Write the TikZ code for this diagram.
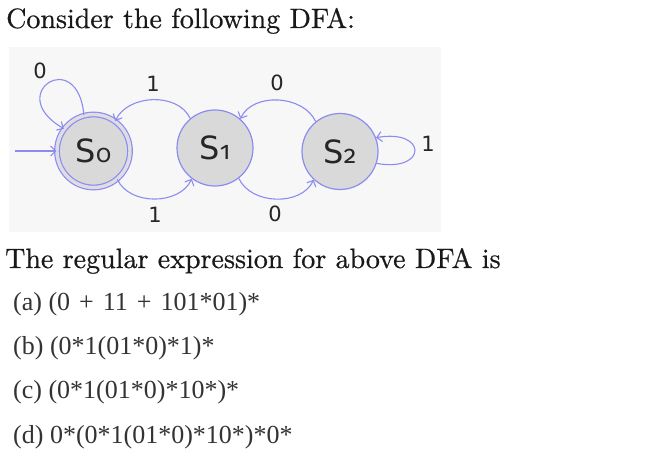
\documentclass[tikz,border=0pt]{standalone}
\usepackage{fontspec}
\usetikzlibrary{arrows.meta}
\newfontfamily\djsans{DejaVu Sans}
\newfontfamily\oldnum[Numbers=OldStyle]{Fira Sans}
\newfontfamily\optfont{Liberation Serif}
\newfontfamily\headfont{lmroman10-regular.otf}[FakeBold=0.6]
\definecolor{edgeblue}{RGB}{140,140,240}
\definecolor{stategray}{RGB}{217,217,217}
\definecolor{ringgray}{RGB}{222,222,226}
\definecolor{bggray}{RGB}{247,247,247}
\begin{document}
\begin{tikzpicture}[x=1pt,y=1pt,
  state/.style={circle, draw=edgeblue, fill=stategray, line width=1.2pt,
    minimum size=76pt, inner sep=0pt, font=\djsans\fontsize{32}{32}\selectfont, text=black!85},
  accepting/.style={double=ringgray, double distance=3.4pt, minimum size=73pt},
  edge/.style={draw=edgeblue, line width=1.1pt, -{Straight Barb[length=5pt,width=10pt]}},
  elabel/.style={font=\djsans\fontsize{21}{21}\selectfont, text=black!85, inner sep=0pt},
  head/.style={anchor=base west, font=\headfont\fontsize{28}{28}\selectfont, inner sep=0pt, text=black!90},
  opt/.style={anchor=base west, font=\optfont\fontsize{26}{26}\selectfont, inner sep=0pt, text=black!80}
]
\useasboundingbox (0,0) rectangle (645,463);
\fill[bggray] (9,231) rectangle (441,416);
\newcommand{\sub}[1]{{\oldnum\fontsize{25}{25}\selectfont #1}}
\node[state, accepting] (s0) at (93.5,312) {S\sub{0}};
\node[state] (s1) at (215,315) {S\sub{1}};
\node[state] (s2) at (340,311.5) {S\sub{2}};
\coordinate (start) at (15,312);
\draw[edge] (start) -- (s0.west);
\draw[edge] (s0.105) to[out=95,in=150,distance=70] (s0.143);
\draw[edge] (s1.130) to[out=115,in=65] (s0.54);
\draw[edge] (s0.-50) to[out=-65,in=-115] (s1.-127);
\draw[edge] (s2.129) to[out=115,in=65] (s1.49);
\draw[edge] (s1.-52) to[out=-65,in=-115] (s2.-133);
\draw[edge] (s2.-18) to[out=-10,in=10,distance=52] (s2.21);
\node[elabel] (l00) at (40,392) {0};
\node[elabel] (l10t) at (153,379) {1};
\node[elabel] (l21) at (277,380) {0};
\node[elabel] (l01) at (155,248) {1};
\node[elabel] (l12) at (275,249) {0};
\node[elabel] (l22) at (428,319) {1};
\node[head] (t1) at (6,435) {Consider the following DFA:};
\node[head] (t2) at (5,195) {The regular expression for above DFA is};
\node[opt] (oa) at (13,152) {(a) (0 \kern2.5pt+ \kern2.5pt11 \kern2.5pt+ \kern2.5pt101*01)*};
\node[opt] (ob) at (13,108) {(b) (0*1(01*0)*1)*};
\node[opt] (oc) at (13,64) {(c) (0*1(01*0)*10*)*};
\node[opt] (od) at (13,19) {(d) 0*(0*1(01*0)*10*)*0*};
\end{tikzpicture}
\end{document}
